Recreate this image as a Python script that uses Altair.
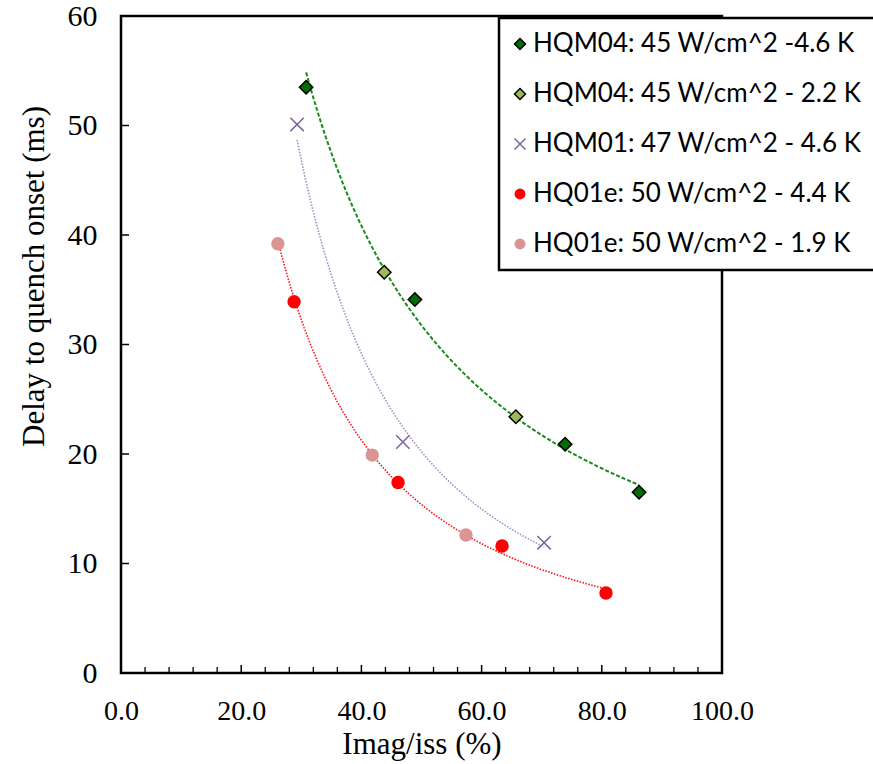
import altair as alt
import pandas as pd

# ---- data ----
series_names = [
    "HQM04: 45 W/cm^2 -4.6 K",
    "HQM04: 45 W/cm^2 - 2.2 K",
    "HQM01: 47 W/cm^2 - 4.6 K",
    "HQ01e: 50 W/cm^2 - 4.4 K",
    "HQ01e: 50 W/cm^2 - 1.9 K",
]
fit_groups = ["HQM04", "HQM04", "HQM01", "HQ01e", "HQ01e"]

hqm04_46_x = [30.8, 48.9, 73.9, 86.2]
hqm04_46_y = [53.5, 34.1, 20.9, 16.5]
hqm04_22_x = [43.8, 65.7]
hqm04_22_y = [36.6, 23.4]
hqm01_x = [29.3, 46.9, 70.4]
hqm01_y = [50.1, 21.1, 11.9]
hq01e_44_x = [28.8, 46.1, 63.4, 80.7]
hq01e_44_y = [33.9, 17.4, 11.6, 7.3]
hq01e_19_x = [26.1, 41.8, 57.4]
hq01e_19_y = [39.2, 19.9, 12.6]

x_major = [0, 20, 40, 60, 80, 100]
x_minor = [4, 8, 12, 16, 24, 28, 32, 36, 44, 48, 52, 56, 64, 68, 72, 76, 84, 88, 92, 96]
y_major = [0, 10, 20, 30, 40, 50, 60]

xs = [hqm04_46_x, hqm04_22_x, hqm01_x, hq01e_44_x, hq01e_19_x]
ys = [hqm04_46_y, hqm04_22_y, hqm01_y, hq01e_44_y, hq01e_19_y]

rows = []
for name, grp, sx, sy in zip(series_names, fit_groups, xs, ys):
    for a, b in zip(sx, sy):
        rows.append({"x": a, "y": b, "series": name, "fit": grp})
points = pd.DataFrame(rows)

W, H = 601, 657
xscale = alt.Scale(domain=[0, 100], nice=False, zero=False)
yscale = alt.Scale(domain=[0, 60], nice=False, zero=False)

SERIF = "Liberation Serif"

xaxis = alt.Axis(values=x_major, format=".1f", title="Imag/iss (%)", grid=False,
                 domain=False, ticks=False, tickSize=0, labelFont=SERIF, labelFontSize=28,
                 labelColor="black", labelBaseline="alphabetic", labelPadding=46,
                 labelFlush=False, labelOverlap=False,
                 titleFont=SERIF, titleFontSize=31, titleFontWeight="normal", titleColor="black",
                 titleBaseline="alphabetic", titleY=80)
yaxis = alt.Axis(values=y_major, title="Delay to quench onset (ms)", grid=False,
                 domain=False, ticks=False, tickSize=0, labelFont=SERIF, labelFontSize=30,
                 labelColor="black", labelBaseline="middle", labelPadding=24,
                 labelFlush=False, labelOverlap=False,
                 titleFont=SERIF, titleFontSize=31, titleFontWeight="normal", titleColor="black",
                 titleBaseline="alphabetic", titleAngle=270, titleX=-78, titleY=260,
                 titleAlign="center")

base = alt.Chart(points)


def trend(group, color, dash, width):
    return base.transform_filter(alt.datum.fit == group).transform_regression(
        "x", "y", method="pow"
    ).mark_line(color=color, strokeDash=dash, strokeWidth=width).encode(
        x=alt.X("x:Q", scale=xscale, axis=xaxis),
        y=alt.Y("y:Q", scale=yscale, axis=yaxis),
    )


line_green = trend("HQM04", "#1A8C1A", [4, 2], 2)
line_purple = trend("HQM01", "#A190C4", [1.5, 1.5], 1.6)
line_red = trend("HQ01e", "#FF1010", [1.5, 1.5], 1.6)

xpath = "M-1,-1L1,1M1,-1L-1,1"
shape_range = ["diamond", "diamond", xpath, "circle", "circle"]
fill_range = ["#006E00", "#9BBB59", "transparent", "#FF0000", "#D99594"]
stroke_range = ["black", "black", "#7A649E", "transparent", "transparent"]

pts = base.mark_point(opacity=1, size=180, strokeWidth=1.5).encode(
    x=alt.X("x:Q", scale=xscale, axis=xaxis),
    y=alt.Y("y:Q", scale=yscale, axis=yaxis),
    shape=alt.Shape("series:N", scale=alt.Scale(domain=series_names, range=shape_range), title=None),
    fill=alt.Fill("series:N", scale=alt.Scale(domain=series_names, range=fill_range), title=None),
    stroke=alt.Stroke("series:N", scale=alt.Scale(domain=series_names, range=stroke_range), title=None),
)

xmaj_df = pd.DataFrame({"v": x_major})
xmin_df = pd.DataFrame({"v": x_minor})
ymaj_df = pd.DataFrame({"v": y_major})

xmaj_ticks = alt.Chart(xmaj_df).mark_rule(color="black", strokeWidth=1.5).encode(
    x=alt.X("v:Q", scale=xscale, axis=xaxis), y=alt.value(H), y2=alt.value(H - 8))
xmin_ticks = alt.Chart(xmin_df).mark_rule(color="black", strokeWidth=1.3).encode(
    x=alt.X("v:Q", scale=xscale, axis=xaxis), y=alt.value(H), y2=alt.value(H - 6))
ymaj_ticks = alt.Chart(ymaj_df).mark_rule(color="black", strokeWidth=1.5).encode(
    y=alt.Y("v:Q", scale=yscale, axis=yaxis), x=alt.value(0), x2=alt.value(8))

chart = alt.layer(
    xmin_ticks, xmaj_ticks, ymaj_ticks, line_green, line_purple, line_red, pts
).properties(
    width=W, height=H,
    autosize=alt.AutoSizeParams(type="none"),
    padding={"left": 121, "top": 16, "right": 873 - 121 - W, "bottom": 764 - 16 - H},
    background="white",
).configure_view(
    stroke="black", strokeWidth=2.5
).configure_legend(
    orient="none", legendX=378, legendY=2,
    strokeColor="black", strokeWidth=2.5, fillColor="white", padding=13,
    labelFont="Lato", labelFontSize=26, labelColor="black", labelLimit=600,
    labelOffset=0, symbolOffset={"expr": "-5"},
    symbolSize=120, symbolStrokeWidth=1.5, rowPadding=24,
)

chart.save("out.html", embed_options={"renderer": "svg", "actions": False})
